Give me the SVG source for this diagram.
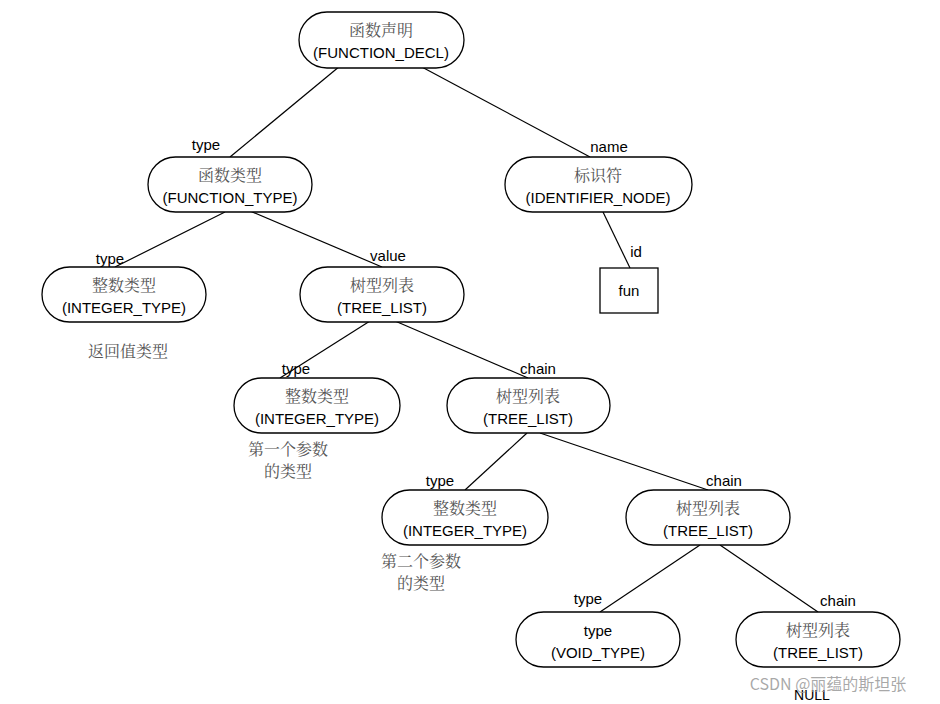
<svg xmlns="http://www.w3.org/2000/svg" width="940" height="704" viewBox="0 0 940 704">
<style>
.n{fill:#fff;stroke:#000;stroke-width:1.3}
.zh{font-family:"Noto Serif CJK SC","Noto Sans CJK SC",serif;font-size:16px;fill:#555;text-anchor:middle}
.en{font-family:"Liberation Sans","Noto Sans",sans-serif;font-size:15px;fill:#000;text-anchor:middle}
.c line{stroke:#000;stroke-width:1.2}
</style>
<rect width="940" height="704" fill="#fff"/>
<g class="c">
<line x1="340" y1="66" x2="230" y2="157"/>
<line x1="420" y1="66" x2="590" y2="157"/>
<line x1="225" y1="212" x2="115" y2="267"/>
<line x1="250" y1="211" x2="382" y2="267"/>
<line x1="603" y1="212" x2="630" y2="268"/>
<line x1="370" y1="321" x2="280" y2="378"/>
<line x1="395" y1="321" x2="528" y2="378"/>
<line x1="527" y1="433" x2="465" y2="490"/>
<line x1="540" y1="433" x2="708" y2="490"/>
<line x1="700" y1="545" x2="600" y2="612"/>
<line x1="720" y1="545" x2="818" y2="612"/>
<text class="en" x="206" y="150">type</text>
<text class="en" x="609" y="152">name</text>
<text class="en" x="110" y="264">type</text>
<text class="en" x="388" y="261">value</text>
<text class="en" x="636" y="257">id</text>
<text class="en" x="296" y="374">type</text>
<text class="en" x="538" y="374">chain</text>
<text class="en" x="440" y="486">type</text>
<text class="en" x="724" y="486">chain</text>
<text class="en" x="588" y="604">type</text>
<text class="en" x="838" y="606">chain</text>
</g>
<g id="n1"><rect class="n" x="299" y="12" width="165" height="56" rx="28"/><text class="zh" x="381" y="36">函数声明</text><text class="en" x="381" y="58">(FUNCTION_DECL)</text></g>
<g id="n2"><rect class="n" x="148" y="157" width="164" height="55" rx="27.5"/><text class="zh" x="230" y="181">函数类型</text><text class="en" x="230" y="203">(FUNCTION_TYPE)</text></g>
<g id="n3"><rect class="n" x="505" y="157" width="187" height="55" rx="27.5"/><text class="zh" x="598" y="181">标识符</text><text class="en" x="598" y="203">(IDENTIFIER_NODE)</text></g>
<g id="n4"><rect class="n" x="600" y="268" width="58" height="45"/><text class="en" x="629" y="296">fun</text></g>
<g id="n5"><rect class="n" x="42" y="267" width="164" height="55" rx="27.5"/><text class="zh" x="124" y="291">整数类型</text><text class="en" x="124" y="313">(INTEGER_TYPE)</text></g>
<g id="n6"><rect class="n" x="300" y="267" width="164" height="55" rx="27.5"/><text class="zh" x="382" y="291">树型列表</text><text class="en" x="382" y="313">(TREE_LIST)</text></g>
<g id="n7"><rect class="n" x="234" y="378" width="166" height="55" rx="27.5"/><text class="zh" x="317" y="402">整数类型</text><text class="en" x="317" y="424">(INTEGER_TYPE)</text></g>
<g id="n8"><rect class="n" x="447" y="378" width="163" height="55" rx="27.5"/><text class="zh" x="528" y="402">树型列表</text><text class="en" x="528" y="424">(TREE_LIST)</text></g>
<g id="n9"><rect class="n" x="382" y="490" width="166" height="55" rx="27.5"/><text class="zh" x="465" y="514">整数类型</text><text class="en" x="465" y="536">(INTEGER_TYPE)</text></g>
<g id="n10"><rect class="n" x="626" y="490" width="164" height="55" rx="27.5"/><text class="zh" x="708" y="514">树型列表</text><text class="en" x="708" y="536">(TREE_LIST)</text></g>
<g id="n11"><rect class="n" x="516" y="612" width="164" height="55" rx="27.5"/><text class="en" x="598" y="636">type</text><text class="en" x="598" y="658">(VOID_TYPE)</text></g>
<g id="n12"><rect class="n" x="736" y="612" width="164" height="55" rx="27.5"/><text class="zh" x="818" y="636">树型列表</text><text class="en" x="818" y="658">(TREE_LIST)</text></g>
<g id="notes">
<text class="zh" x="128" y="357">返回值类型</text>
<text class="zh" x="288" y="455">第一个参数</text>
<text class="zh" x="288" y="477">的类型</text>
<text class="zh" x="421" y="567">第二个参数</text>
<text class="zh" x="421" y="589">的类型</text>
<text class="en" x="812" y="700" style="font-size:14px">NULL</text>
<text x="828" y="690" style="font-family:'Noto Sans CJK SC',sans-serif;font-size:16px;fill:#999;fill-opacity:0.85;text-anchor:middle">CSDN @丽蕴的斯坦张</text>
</g>
</svg>
